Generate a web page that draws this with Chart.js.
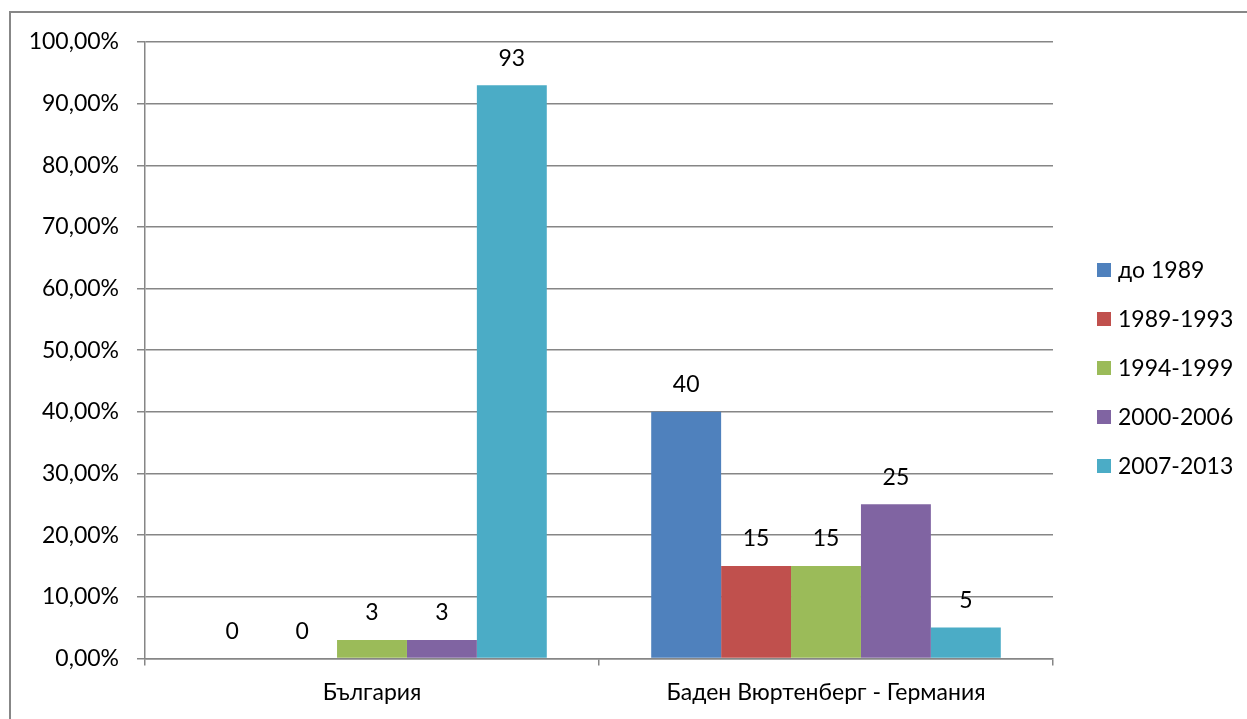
<!DOCTYPE html>
<html>
<head>
<meta charset="utf-8">
<script src="https://cdn.jsdelivr.net/npm/chart.js@4/dist/chart.umd.min.js"></script>
<style>
html,body{margin:0;padding:0;background:#fff;}
#wrap{width:1247px;height:719px;position:relative;}
</style>
</head>
<body>
<div id="wrap"><canvas id="c" width="1247" height="719"></canvas></div>
<script>
const categories = ['България', 'Баден Вюртенберг - Германия'];
const seriesNames = ['до 1989', '1989-1993', '1994-1999', '2000-2006', '2007-2013'];
const seriesColors = ['#4F81BD', '#C0504D', '#9BBB59', '#8064A2', '#4BACC6'];
const upTo1989 = [0, 40];
const s1989_1993 = [0, 15];
const s1994_1999 = [3, 15];
const s2000_2006 = [3, 25];
const s2007_2013 = [93, 5];
const seriesValues = [upTo1989, s1989_1993, s1994_1999, s2000_2006, s2007_2013];

const FONT = 'Lato, "Open Sans", sans-serif';
const FS = 23;
const GRID = '#868686';

const datasets = seriesNames.map((n, i) => ({
  label: n,
  data: seriesValues[i],
  backgroundColor: seriesColors[i],
  borderWidth: 0,
  categoryPercentage: 0.77,
  barPercentage: 1.0
}));

const extras = {
  id: 'extras',
  beforeDraw(chart) {
    const ctx = chart.ctx;
    ctx.save();
    ctx.fillStyle = '#fff';
    ctx.fillRect(0, 0, chart.width, chart.height);
    ctx.strokeStyle = '#878787';
    ctx.lineWidth = 2;
    ctx.strokeRect(10, 12, 3000, 3000);
    ctx.restore();
  },
  afterDatasetsDraw(chart) {
    const ctx = chart.ctx;
    ctx.save();
    ctx.font = FS + 'px ' + FONT;
    ctx.fillStyle = '#000';
    ctx.textAlign = 'center';
    ctx.textBaseline = 'middle';
    chart.data.datasets.forEach((ds, i) => {
      const meta = chart.getDatasetMeta(i);
      meta.data.forEach((bar, j) => {
        ctx.fillText(String(ds.data[j]), bar.x, bar.y - 27);
      });
    });
    // legend
    const lx = chart.chartArea.right + 44;
    const cy = 368;
    const sp = 49;
    const n = chart.data.datasets.length;
    ctx.textAlign = 'left';
    chart.data.datasets.forEach((ds, i) => {
      const y = cy + (i - (n - 1) / 2) * sp;
      ctx.fillStyle = ds.backgroundColor;
      ctx.fillRect(lx, y - 7, 14, 14);
      ctx.fillStyle = '#000';
      ctx.fillText(ds.label, lx + 21, y + 1);
    });
    ctx.restore();
  }
};

new Chart(document.getElementById('c'), {
  type: 'bar',
  data: { labels: categories, datasets },
  plugins: [extras],
  options: {
    responsive: false,
    animation: false,
    layout: { padding: { left: 0, right: 194, top: 42, bottom: 0 } },
    plugins: { legend: { display: false }, tooltip: { enabled: false } },
    scales: {
      x: {
        grid: { offset: true, drawOnChartArea: false, drawTicks: true, tickLength: 7, color: GRID, lineWidth: 1.5 },
        border: { display: true, color: GRID, width: 1.5 },
        ticks: { color: '#000', font: { family: FONT, size: FS }, padding: 13 }
      },
      y: {
        min: 0, max: 100,
        afterFit(scale) { scale.width = 145; },
        grid: { color: GRID, lineWidth: 1.5, drawTicks: true, tickLength: 8 },
        border: { display: true, color: GRID, width: 1.5 },
        ticks: {
          stepSize: 10,
          color: '#000',
          font: { family: FONT, size: FS },
          padding: 18,
          callback: v => v.toFixed(2).replace('.', ',') + '%'
        }
      }
    }
  }
});
</script>
</body>
</html>
